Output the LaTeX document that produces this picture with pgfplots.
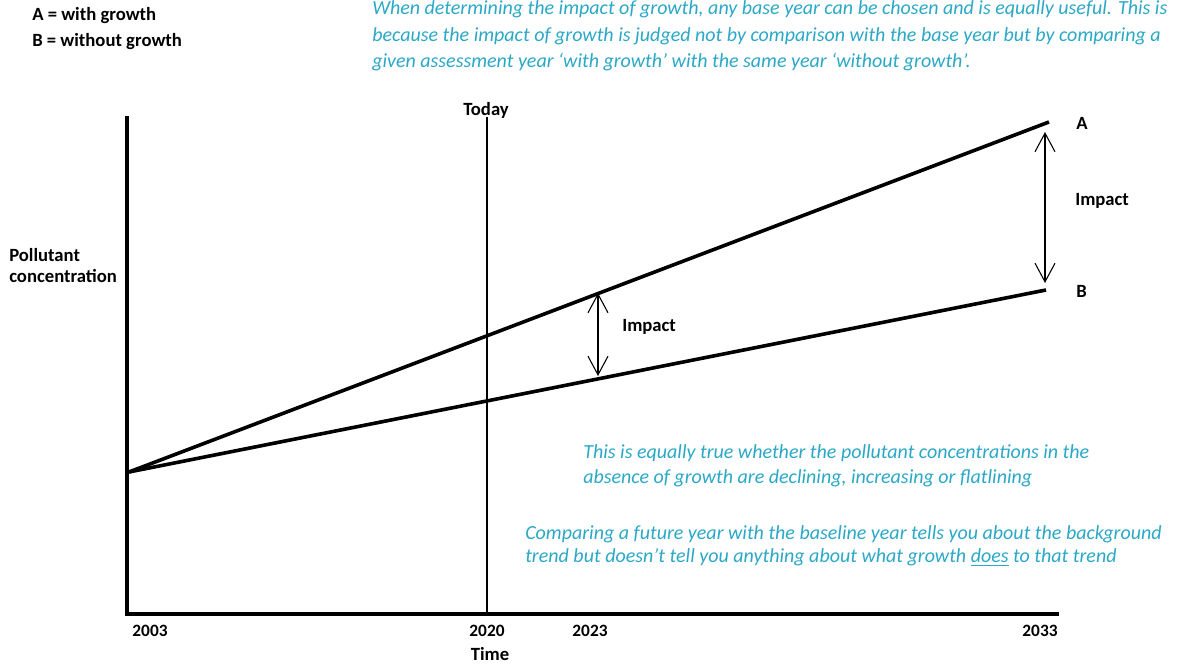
\documentclass[border=0pt]{standalone}
\usepackage{fontspec}
\setmainfont{Carlito}
\usepackage{pgfplots}
\pgfplotsset{compat=1.18}
\usetikzlibrary{arrows.meta}
\definecolor{note}{RGB}{43,168,198}
\newcommand{\bl}{\bfseries\fontsize{14}{16}\selectfont}
\newcommand{\tk}{\bfseries\fontsize{13}{15}\selectfont}
\newcommand{\nt}{\itshape\fontsize{15}{18}\selectfont\color{note}}
\begin{document}
\begin{tikzpicture}
\begin{axis}[
  scale only axis, width=697.5pt, height=372pt,
  xmin=127, xmax=1057, ymin=52, ymax=548,
  axis lines=left,
  axis line style={-, line width=3.6pt, line cap=rect},
  xtick={150,487,590,1040}, xticklabels={2003,2020,2023,2033},
  ytick=\empty, major tick length=0pt,
  xticklabel style={font=\tk, yshift=-5pt},
  clip=false,
]
% Today line
\addplot[black, line width=0.8pt] coordinates {(487,52) (487,549)};
% A with growth / B without growth
\addplot[black, line width=2.7pt] coordinates {(129,194) (1049,544)};
\addplot[black, line width=2.7pt] coordinates {(129,194) (1046,376)};
% impact arrows
\addplot[black, line width=0.8pt, {Straight Barb[length=14pt,width=15pt]}-{Straight Barb[length=14pt,width=15pt]}] coordinates {(598,373) (598,290)};
\addplot[black, line width=0.8pt, {Straight Barb[length=14pt,width=15pt]}-{Straight Barb[length=14pt,width=15pt]}] coordinates {(1045,534) (1045,383)};
% labels (pixel positions, y measured from bottom)
\node[anchor=base west, inner sep=0] at (axis cs:32,645) {\bl A = with growth};
\node[anchor=base west, inner sep=0] at (axis cs:32,619) {\bl B = without growth};
\node[anchor=base west, inner sep=0] at (axis cs:372,651) {\nt When determining the impact of growth, any base year can be chosen and is equally useful. This is};
\node[anchor=base west, inner sep=0] at (axis cs:372,624) {\nt because the impact of growth is judged not by comparison with the base year but by comparing a};
\node[anchor=base west, inner sep=0] at (axis cs:372,598) {\nt given assessment year ‘with growth’ with the same year ‘without growth’.};
\node[anchor=base, inner sep=0] at (axis cs:486,550) {\bl Today};
\node[anchor=base west, inner sep=0] at (axis cs:9,404) {\bl Pollutant};
\node[anchor=base west, inner sep=0] at (axis cs:9,383) {\bl concentration};
\node[anchor=base west, inner sep=0] at (axis cs:622,334) {\bl Impact};
\node[anchor=base west, inner sep=0] at (axis cs:1075,460) {\bl Impact};
\node[anchor=base west, inner sep=0] at (axis cs:1076,536) {\bl A};
\node[anchor=base west, inner sep=0] at (axis cs:1076,368) {\bl B};
\node[anchor=base west, inner sep=0] at (axis cs:583,207) {\nt This is equally true whether the pollutant concentrations in the};
\node[anchor=base west, inner sep=0] at (axis cs:583,182) {\nt absence of growth are declining, increasing or flatlining};
\node[anchor=base west, inner sep=0] at (axis cs:525,126) {\nt Comparing a future year with the baseline year tells you about the background};
\node[anchor=base west, inner sep=0] at (axis cs:525,103) {\nt trend but doesn’t tell you anything about what growth \underline{does} to that trend};
\node[anchor=base, inner sep=0] at (axis cs:490,5) {\bl Time};
\coordinate (BL) at (axis cs:0,0);
\coordinate (TR) at (axis cs:1185,666);
\end{axis}
\pgfresetboundingbox
\path[use as bounding box] (BL) rectangle (TR);
\end{tikzpicture}
\end{document}
